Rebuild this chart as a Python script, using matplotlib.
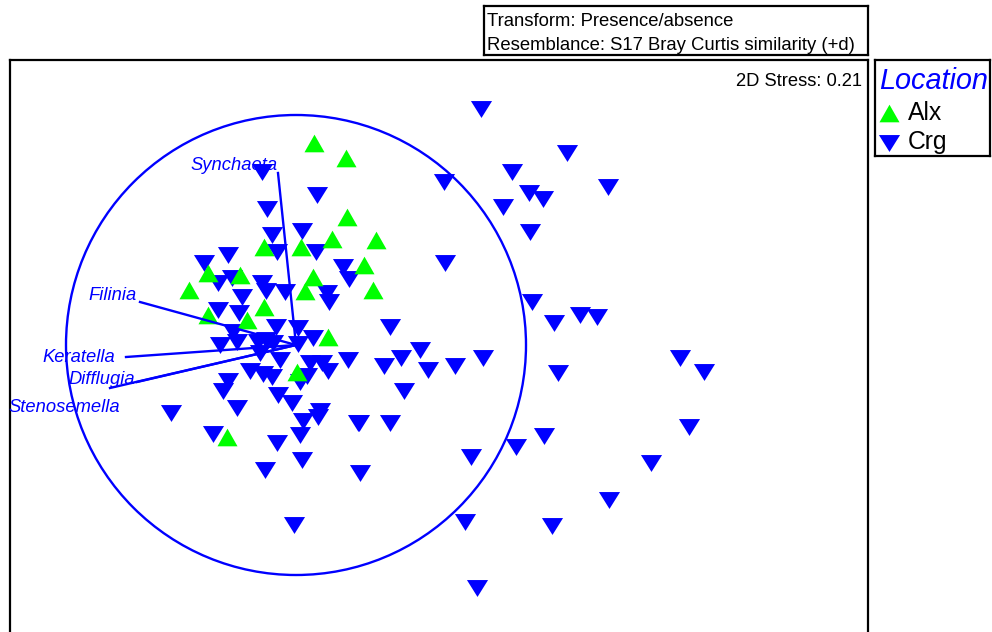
import matplotlib
matplotlib.use("Agg")
import matplotlib.pyplot as plt
from matplotlib.path import Path
from matplotlib.patches import Circle
import numpy as np

plt.rcParams['font.family'] = ['Liberation Sans', 'DejaVu Sans']

# nMDS sample scores (ordination units, axis 2 shown downward)
alx_x = [314, 346, 347, 376, 332, 301, 264, 364, 313, 305, 373, 240, 208, 189,
         264, 208, 247, 328, 297, 227]
alx_y = [143, 158, 217, 240, 239, 247, 247, 265, 277, 291, 290, 275, 273, 290,
         307, 315, 320, 337, 372, 437]

crg_x = [481, 567, 512, 444, 529, 543, 608, 503, 530, 445, 532, 580, 597, 554,
         390, 420, 401, 384, 428, 455, 483, 558, 680, 704, 404, 359, 390, 544,
         516, 471, 689, 651, 360, 609, 465, 552, 477, 294, 348,
         262, 317, 267, 272, 302, 277, 316, 343, 349, 327, 329, 285, 262, 266,
         204, 228, 218, 232, 242, 218, 239,
         276, 298, 233, 220, 237, 258, 266, 273, 298, 313, 260, 280, 250, 263,
         272, 310, 322, 328, 307, 300, 228, 223, 278, 292, 237, 171, 320, 318,
         303, 358, 213, 300, 277, 302, 265]
crg_y = [109, 153, 172, 182, 193, 199, 187, 207, 232, 263, 302, 315, 317, 323,
         327, 350, 358, 366, 370, 366, 358, 373, 358, 372, 391, 423, 423, 436,
         447, 457, 427, 463, 473, 500, 522, 526, 588, 525, 360,
         172, 195, 209, 235, 231, 252, 252, 267, 279, 293, 302, 292, 283, 291,
         263, 255, 283, 278, 297, 310, 313,
         327, 328, 332, 345, 342, 342, 340, 343, 344, 338, 353, 360, 371, 374,
         377, 363, 363, 371, 376, 382, 381, 391, 395, 403, 408, 413, 411, 417,
         421, 423, 434, 435, 443, 460, 470]

# Species vectors (endpoint of each correlation vector)
species = ['Synchaeta', 'Filinia', 'Keratella', 'Difflugia', 'Stenosemella']
vec_x = [278, 140, 126, 137, 110]
vec_y = [173, 302, 357, 382, 388]
vec_origin = (296, 345)
circle_radius = 230

# label offsets (pixels) for each species label
label_offsets = [(0, 8), (-3, 7), (-11, -1), (-2, 3), (10, -20)]

W, H = 992, 632
fig = plt.figure(figsize=(W / 100, H / 100), dpi=100)


def fig_rect(x0, y0, x1, y1):
    return [x0 / W, 1 - y1 / H, (x1 - x0) / W, (y1 - y0) / H]


down_tri = Path([(-1, 0.8), (1, 0.8), (0, -0.8), (-1, 0.8)],
                [Path.MOVETO, Path.LINETO, Path.LINETO, Path.CLOSEPOLY])
up_tri = Path([(-1, -0.88), (1, -0.88), (0, 0.88), (-1, -0.88)],
              [Path.MOVETO, Path.LINETO, Path.LINETO, Path.CLOSEPOLY])
BLUE = '#0000ff'
GREEN = '#00ff00'
MS = 15.2

# --- main ordination panel
ax = fig.add_axes(fig_rect(10, 60, 868, 640))
ax.set_xlim(10, 868)
ax.set_ylim(640, 60)
ax.set_xticks([])
ax.set_yticks([])
for s in ax.spines.values():
    s.set_linewidth(1.6)
    s.set_color('black')

ax.plot(crg_x, crg_y, linestyle='none', marker=down_tri, markersize=MS,
        markerfacecolor=BLUE, markeredgewidth=0, zorder=2)
ax.plot(alx_x, alx_y, linestyle='none', marker=up_tri, markersize=MS * 0.95,
        markerfacecolor=GREEN, markeredgewidth=0, zorder=3)

ax.add_patch(Circle(vec_origin, circle_radius, fill=False, edgecolor=BLUE,
                    linewidth=1.7, zorder=4))
for name, ex, ey, off in zip(species, vec_x, vec_y, label_offsets):
    ax.plot([vec_origin[0], ex], [vec_origin[1], ey], color=BLUE,
            linewidth=1.7, zorder=5)
    ax.annotate(name, xy=(ex, ey), xytext=off, textcoords='offset pixels',
                ha='right', va='center', color=BLUE, style='italic',
                fontsize=13.2, zorder=6)

ax.text(862, 81, '2D Stress: 0.21', ha='right', va='center', fontsize=13.2,
        color='black')

# --- header box
hax = fig.add_axes(fig_rect(484, 6, 868, 55))
hax.set_xlim(484, 868)
hax.set_ylim(55, 6)
hax.set_xticks([])
hax.set_yticks([])
for s in hax.spines.values():
    s.set_linewidth(1.6)
hax.text(487, 21, 'Transform: Presence/absence', ha='left', va='center',
         fontsize=13.3)
hax.text(487, 45, 'Resemblance: S17 Bray Curtis similarity (+d)', ha='left',
         va='center', fontsize=13.3)

# --- legend box
lax = fig.add_axes(fig_rect(875, 60, 990, 156))
lax.set_xlim(875, 990)
lax.set_ylim(156, 60)
lax.set_xticks([])
lax.set_yticks([])
for s in lax.spines.values():
    s.set_linewidth(1.6)
lax.text(879, 81, 'Location', ha='left', va='center', fontsize=20.8,
         style='italic', color=BLUE)
lax.plot([889], [113], linestyle='none', marker=up_tri, markersize=MS * 0.95,
         markerfacecolor=GREEN, markeredgewidth=0)
lax.plot([889], [143], linestyle='none', marker=down_tri, markersize=MS,
         markerfacecolor=BLUE, markeredgewidth=0)
lax.text(908, 113, 'Alx', ha='left', va='center', fontsize=17.8)
lax.text(908, 142, 'Crg', ha='left', va='center', fontsize=17.8)

fig.savefig('out.png', dpi=100)
